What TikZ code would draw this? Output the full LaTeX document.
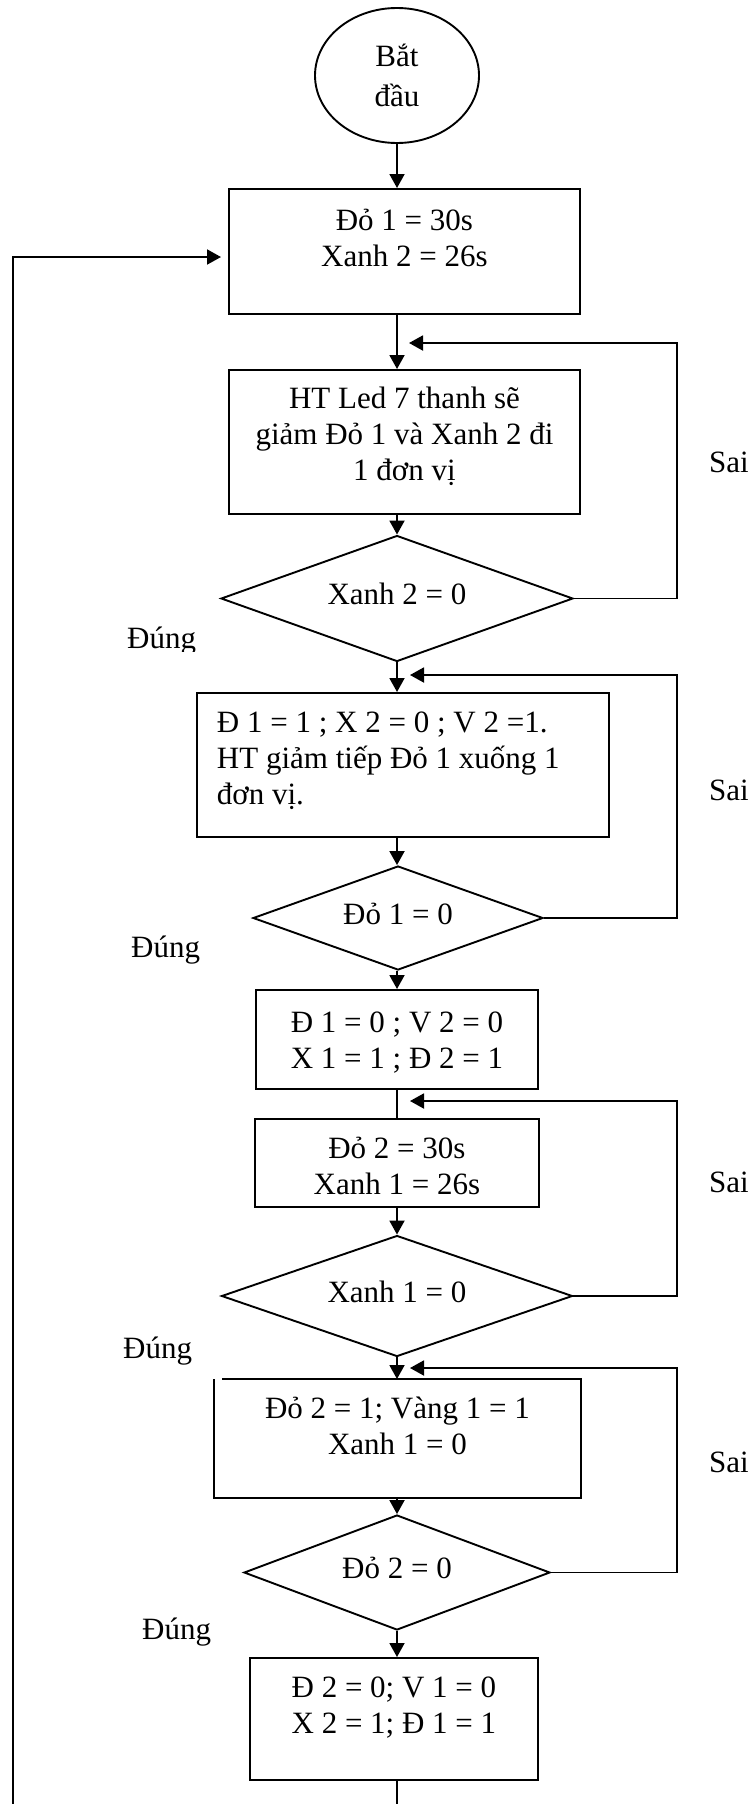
\documentclass[tikz,border=0pt]{standalone}
\usepackage{fontspec}
\setmainfont{Liberation Serif}
\usetikzlibrary{arrows.meta,shapes.geometric}
\newcommand{\bx}[4]{\parbox[c][#2pt][t]{#1pt}{\centering\rule{0pt}{#3pt}#4}}
\newcommand{\bxl}[4]{\parbox[c][#2pt][t]{#1pt}{\raggedright\leftskip=20pt\rule{0pt}{#3pt}#4}}
\tikzset{
  ln/.style={line width=1.9pt},
  arr/.style={ln, -{Triangle[length=14pt,width=15pt]}},
  procbox/.style={draw, ln, inner sep=0pt, anchor=north west},
  decision/.style={diamond, aspect=3, draw, ln, inner sep=0pt, text height=12pt, text depth=0pt},
  startnode/.style={ellipse, draw, ln, inner sep=0pt, align=center, font=\fontsize{31}{40}\selectfont},
  lbl/.style={inner sep=0pt, anchor=base west},
}
\begin{document}
\begin{tikzpicture}[x=1pt, y=-1pt, font=\fontsize{31}{36}\selectfont]
\useasboundingbox (0,0) rectangle (752,1804);
% start
\node[startnode, minimum width=164pt, minimum height=135pt] (e1) at (397,75.5) {Bắt\\đầu};
% boxes
\node[procbox] (b1) at (228,188) {\bx{351}{125}{42}{Đỏ 1 = 30s\\Xanh 2 = 26s}};
\node[procbox] (b2) at (228,369) {\bx{351}{144}{39}{HT Led 7 thanh sẽ\\giảm Đỏ 1 và Xanh 2 đi\\1 đơn vị}};
\node[decision, minimum width=352pt, minimum height=126pt] (d1) at (397,598.5) {Xanh 2 = 0};
\node[procbox] (b3) at (196,692) {\bxl{412}{144}{40}{Đ 1 = 1 ; X 2 = 0 ; V 2 =1.\\HT giảm tiếp Đỏ 1 xuống 1\\đơn vị.}};
\node[decision, minimum width=290pt, minimum height=104pt] (d2) at (398,918) {Đỏ 1 = 0};
\node[procbox] (b4) at (255,989) {\bx{282}{99}{43}{Đ 1 = 0 ; V 2 = 0\\X 1 = 1 ; Đ 2 = 1}};
\begin{scope}
  \clip (255,1119) rectangle (537,1195);
  \node[procbox, draw=none] (b5) at (255,1119) {\bx{282}{86}{39}{Đỏ 2 = 30s\\Xanh 1 = 26s}};
\end{scope}
\draw[ln] (b5.north west) rectangle (b5.south east);
\node[decision, minimum width=351pt, minimum height=121pt] (d3) at (397,1296) {Xanh 1 = 0};
\node[procbox, draw=none] (b6) at (214,1379) {\bx{365}{117}{39}{Đỏ 2 = 1; Vàng 1 = 1\\Xanh 1 = 0}};
\draw[ln] ([xshift=8pt]b6.north west) -- (b6.north east) -- (b6.south east) -- (b6.south west) -- (b6.north west);
\node[decision, minimum width=306pt, minimum height=115pt] (d4) at (397,1572.5) {Đỏ 2 = 0};
\node[procbox] (b7) at (249,1657) {\bx{288}{122}{40}{Đ 2 = 0; V 1 = 0\\X 2 = 1; Đ 1 = 1}};
% labels
\node[lbl] (s1) at (709,472) {Sai};
\node[lbl] (s2) at (709,800) {Sai};
\node[lbl] (s3) at (709,1192) {Sai};
\node[lbl] (s4) at (709,1472) {Sai};
\begin{scope}
  \clip (100,600) rectangle (230,651);
  \node[lbl] (y1) at (127,648) {Đúng};
\end{scope}
\node[lbl] (y2) at (131,957) {Đúng};
\node[lbl] (y3) at (123,1358) {Đúng};
\node[lbl] (y4) at (142,1639) {Đúng};
% join points
\coordinate (j1) at (409,343);
\coordinate (j2) at (410,675);
\coordinate (j3) at (410,1101);
\coordinate (j4) at (410,1368);
\coordinate (entry) at (221,257);
\coordinate (bend1) at (397,1830);
\coordinate (bend2) at (13,1830);
% main flow
\draw[arr] (e1.south) -- (b1.north -| e1);
\draw[arr] (b1.south -| e1) -- (b2.north -| e1);
\draw[arr] (b2.south -| e1) -- (d1.north);
\draw[arr] (d1.south) -- (b3.north -| e1);
\draw[arr] (b3.south -| e1) -- (d2.north -| e1);
\draw[arr] (d2.south -| e1) -- (b4.north -| e1);
\draw[ln] (b4.south -| e1) -- (b5.north -| e1);
\draw[arr] (b5.south -| e1) -- (d3.north);
\draw[arr] (d3.south) -- (b6.north -| e1);
\draw[arr] (b6.south -| e1) -- (d4.north);
\draw[arr] (d4.south) -- (b7.north -| e1);
% loops
\draw[arr] (d1.east) -| (677,343) -- (j1);
\draw[arr] (d2.east) -| (677,675) -- (j2);
\draw[arr] (d3.east) -| (677,1101) -- (j3);
\draw[arr] (d4.east) -| (677,1368) -- (j4);
\draw[arr] (b7.south -| e1) -- (bend1) -- (bend2) |- (entry);
\end{tikzpicture}
\end{document}
